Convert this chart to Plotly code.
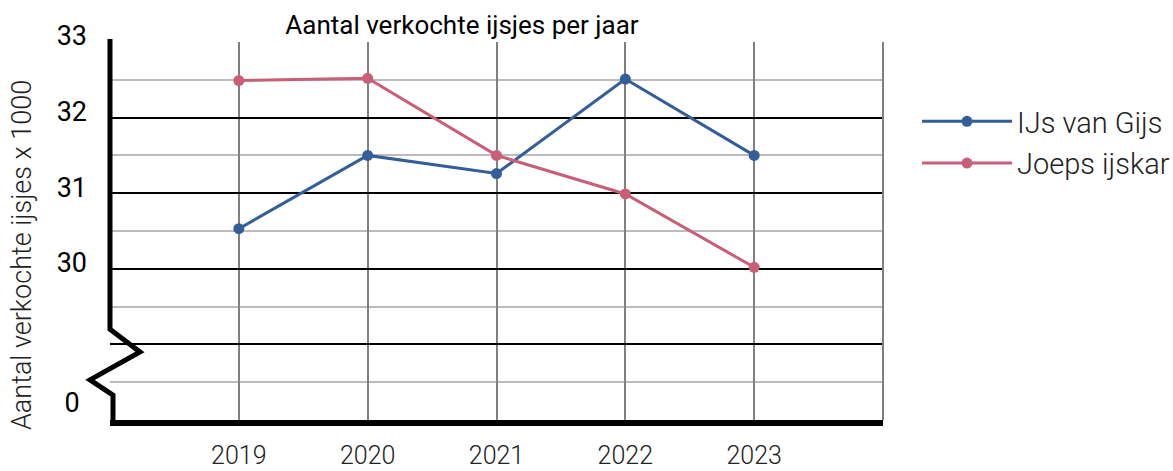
import plotly.graph_objects as go

# ---- data ----
years = ["2019", "2020", "2021", "2022", "2023"]
gijs = [30.53, 31.50, 31.26, 32.51, 31.50]
joep = [32.49, 32.52, 31.50, 30.99, 30.02]

series_names = ["IJs van Gijs", "Joeps ijskar"]
series_colors = ["#335e99", "#c95e77"]

y_min, y_max = 28, 33
y_tick_vals = [28.146, 30, 31, 32, 33]
y_tick_text = ["0\u2008", "30", "31", "32", "33"]

title_text = "Aantal verkochte ijsjes per jaar"
y_title = "Aantal verkochte ijsjes x 1000"

FONT = "Roboto"

# plot area geometry (px)
W, H = 1173, 471
ML, MR, MT, MB = 110, 290, 42, 51
PW = W - ML - MR
PH = H - MT - MB

fig = go.Figure()
for name, vals, col in zip(series_names, [gijs, joep], series_colors):
    fig.add_trace(go.Scatter(
        x=years, y=vals, name=name, mode="lines+markers",
        legendgroup=name,
        line=dict(color=col, width=3),
        marker=dict(color=col, size=11),
        yaxis="y",
    ))

# invisible trace to activate the label axis
fig.add_trace(go.Scatter(x=[years[0]], y=[y_min], yaxis="y2", mode="markers",
                         marker=dict(opacity=0), showlegend=False, hoverinfo="skip"))

def to_py(v):
    return (v - y_min) / (y_max - y_min)

# axis-break zigzag for the y axis (paper coords), offsets in px from the plot's left edge
brk = [(0, 33.04), (0, 29.2), (30, 28.9), (-20, 28.53), (3, 28.33), (3, 27.97)]
path = "M" + " L".join(f"{dx / PW:.5f},{to_py(v):.5f}" for dx, v in brk)

legend_item_w = 90
legend_x_px = 1017 - legend_item_w - 10

fig.update_layout(
    width=W, height=H,
    margin=dict(l=ML, r=MR, t=MT, b=MB, autoexpand=False),
    paper_bgcolor="white", plot_bgcolor="white",
    font=dict(family=FONT, color="#000000"),
    title=dict(text=title_text, x=462 / W, xref="container", xanchor="center",
               y=1 - 25 / H, yref="container", yanchor="middle",
               font=dict(size=26, family=FONT, color="#000000")),
    xaxis=dict(type="category", range=[-1, 5],
               showgrid=True, gridcolor="#808080", gridwidth=2,
               showline=True, linecolor="#000000", linewidth=6,
               ticks="", ticklabelstandoff=8,
               tickfont=dict(size=25, family=FONT, weight=300, color="#222222"),
               zeroline=False, fixedrange=True),
    yaxis=dict(range=[y_min, y_max], tick0=y_min, dtick=1,
               showgrid=True, gridcolor="#000000", gridwidth=2,
               minor=dict(dtick=0.5, tick0=y_min, showgrid=True, gridcolor="#bcbcbc", gridwidth=2),
               showticklabels=False, ticks="", zeroline=False, showline=False,
               fixedrange=True),
    yaxis2=dict(overlaying="y", side="left", range=[y_min, y_max],
                tickmode="array", tickvals=y_tick_vals, ticktext=y_tick_text,
                showgrid=False, zeroline=False, showline=False, ticks="",
                ticklabelshift=-6, ticklabelstandoff=22,
                tickfont=dict(size=27, family=FONT, color="#000000"),
                fixedrange=True),
    legend=dict(x=(legend_x_px - ML) / PW, xanchor="left",
                y=(H - MB - 116 + 20) / PH, yanchor="top",
                yref="paper", xref="paper",
                font=dict(size=29, family=FONT, weight=300, color="#222222"),
                traceorder="grouped", tracegroupgap=1, itemwidth=legend_item_w,
                bgcolor="rgba(0,0,0,0)"),
    annotations=[
        dict(text=y_title, textangle=-90, xref="paper", yref="paper",
             x=(22 - ML) / PW, y=(H - MB - 255) / PH, xanchor="center", yanchor="middle",
             showarrow=False,
             font=dict(size=27, family=FONT, weight=300, color="#222222")),
    ],
    shapes=[
        dict(type="path", xref="paper", yref="paper", path=path,
             line=dict(color="#000000", width=5), layer="above"),
        dict(type="line", xref="paper", yref="paper", x0=1, x1=1, y0=0, y1=1,
             line=dict(color="#808080", width=2), layer="above"),
    ],
    showlegend=True,
)

fig.write_html("out.html", config={"displayModeBar": False},
               post_script="document.body.style.margin='0px';document.body.style.overflow='hidden';")
